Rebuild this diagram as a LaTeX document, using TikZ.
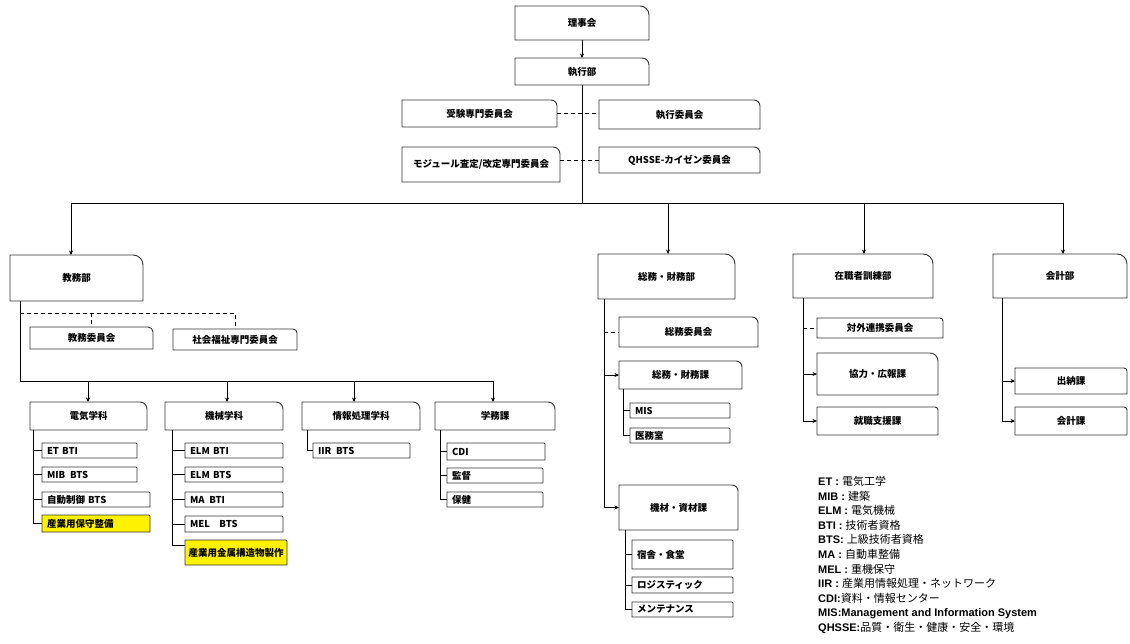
\documentclass[tikz,border=0pt]{standalone}
\usepackage{fontspec}
\setmainfont{Liberation Sans}
\newfontfamily\jp{Noto Sans CJK JP}
\usetikzlibrary{arrows.meta,calc}
\tikzset{
  boxline/.style={draw=black!80, line width=0.9pt},
  boxtext/.style={rectangle, inner sep=0pt, outer sep=0pt, text=black,
    font=\jp\bfseries\fontsize{9.5}{10}\selectfont},
  conn/.style={draw=black, line width=0.9pt},
  arr/.style={conn, -{Stealth[length=4.5pt,width=4pt]}},
  dconn/.style={conn, dash pattern=on 4pt off 3pt},
  legendtext/.style={anchor=north west, inner sep=0pt, align=left,
    font=\bfseries\fontsize{11}{14.6}\selectfont},
}
% #1 draw opts, #2 node opts, #3 name, #4 x1, #5 y1, #6 x2, #7 y2, #8 radius, #9 text
\newcommand\bxcore[9]{%
  \pgfmathsetmacro\bw{#6-#4}\pgfmathsetmacro\bh{#7-#5}%
  \draw[boxline,#1] (#4,#7) -- (#4,#5) -- ({#6-#8},#5)
     arc[start angle=90,end angle=0,radius=#8pt] -- (#6,#7) -- cycle;
  \node[boxtext,minimum width=\bw pt,minimum height=\bh pt,#2] (#3)
     at ({(#4+#6)/2},{(#5+#7)/2}) {#9};
}
\newcommand\bx[8][]{\bxcore{#1}{}{#2}{#3}{#4}{#5}{#6}{#7}{#8}}
\newcommand\bl[8][]{%
  \pgfmathsetmacro\tw{#5-#3-10}%
  \bxcore{#1}{text width=\tw pt,align=left}{#2}{#3}{#4}{#5}{#6}{#7}{#8}}

\begin{document}
\begin{tikzpicture}[x=1pt,y=-1pt]
\useasboundingbox[fill=white] (0,0) rectangle (1130,644);

% top
\bx{rijikai}{515}{6}{649}{40}{9}{理事会}
\bx{shikko}{515}{58}{649}{85}{7}{執行部}
\bx{juken}{402}{100}{557}{127}{6}{受験専門委員会}
\bx{shikkoi}{599}{100}{760}{129}{6}{執行委員会}
\bx{module}{402}{147}{560}{182}{7}{モジュール査定/改定専門委員会}
\bx{qhsse}{599}{147}{760}{173}{6}{QHSSE-カイゼン委員会}

% departments
\bx{kyomu}{10}{255}{143}{301}{10}{教務部}
\bx{somu}{598}{254}{735}{299}{10}{総務・財務部}
\bx{zaishoku}{793}{254}{933}{298}{10}{在職者訓練部}
\bx{kaikei}{993}{254}{1127}{298}{10}{会計部}

% kyomu
\bx{kyomui}{30}{327}{153}{349}{5}{教務委員会}
\bx{shakai}{173}{329}{297}{350}{4}{社会福祉専門委員会}
\bx{denki}{30}{402}{147}{430}{7}{電気学科}
\bx{kikai}{165}{402}{283}{430}{7}{機械学科}
\bx{joho}{302}{402}{420}{430}{7}{情報処理学科}
\bx{gakumu}{435}{402}{555}{430}{7}{学務課}

\bl{etbti}{42}{443}{137}{458}{1}{ET BTI}
\bl{mib}{42}{467}{137}{482}{1}{MIB\enspace BTS}
\bl{jido}{42}{492}{150}{507}{1}{自動制御 BTS}
\bl[fill=yellow]{sangyo1}{42}{515}{150}{532}{1}{産業用保守整備}
\bl{elmbti}{185}{443}{283}{458}{1}{ELM BTI}
\bl{elmbts}{185}{467}{283}{482}{1}{ELM BTS}
\bl{mabti}{185}{492}{283}{507}{1}{MA\enspace BTI}
\bl{melbts}{185}{516}{283}{532}{1}{MEL\quad BTS}
\bx[fill=yellow]{sangyo2}{185}{540}{287}{565}{1}{産業用金属構造物製作}
\bl{iir}{313}{443}{410}{458}{1}{IIR\enspace BTS}
\bl{cdi}{447}{443}{545}{460}{1}{CDI}
\bl{kantoku}{447}{468}{543}{483}{1}{監督}
\bl{hoken}{447}{492}{543}{507}{1}{保健}

% somu
\bx{somui}{619}{317}{758}{347}{6}{総務委員会}
\bx{somuka}{619}{361}{742}{389}{6}{総務・財務課}
\bl{mis}{630}{403}{730}{418}{1}{MIS}
\bl{imu}{630}{428}{730}{443}{1}{医務室}
\bx{kizai}{619}{485}{738}{530}{6}{機材・資材課}
\bl{shukusha}{632}{540}{733}{569}{1}{宿舎・食堂}
\bl{logi}{632}{577}{733}{593}{1}{ロジスティック}
\bl{maint}{632}{602}{733}{617}{1}{メンテナンス}

% zaishoku
\bx{taigai}{817}{318}{943}{338}{3}{対外連携委員会}
\bx{kyoryoku}{817}{353}{938}{395}{8}{協力・広報課}
\bx{shushoku}{817}{407}{938}{435}{3}{就職支援課}

% kaikei
\bx{suitou}{1015}{368}{1127}{394}{3}{出納課}
\bx{kaikeika}{1015}{407}{1127}{435}{3}{会計課}

% ---- connectors ----
\draw[arr] (rijikai) -- (shikko);
\coordinate (busC) at (582,203);
\coordinate (busL) at (71,203);
\coordinate (bus2) at (668,203);
\coordinate (bus3) at (864,203);
\coordinate (busR) at (1063,203);
\draw[conn] (shikko) -- (busC);
\draw[conn] (busL) -- (busR);
\draw[arr] (busL) -- (busL |- kyomu.north);
\draw[arr] (bus2) -- (bus2 |- somu.north);
\draw[arr] (bus3) -- (bus3 |- zaishoku.north);
\draw[arr] (busR) -- (busR |- kaikei.north);

\draw[dconn] (juken.east) -- (juken.east -| shikkoi.west);
\draw[dconn] (qhsse.west) -- (qhsse.west -| module.east);

% kyomu
\coordinate (k0) at ([xshift=10pt]kyomu.south west);
\coordinate (kbR) at (493,381);
\coordinate (kd) at (237,313);
\draw[conn] (k0) |- (kbR);
\draw[dconn] (k0 |- kd) -| (shakai.north);
\draw[dconn] (kyomui.north |- kd) -- (kyomui.north);
\coordinate (kb1) at (88,381);
\coordinate (kb2) at (227,381);
\coordinate (kb3) at (354,381);
\draw[arr] (kb1) -- (kb1 |- denki.north);
\draw[arr] (kb2) -- (kb2 |- kikai.north);
\draw[arr] (kb3) -- (kb3 |- joho.north);
\draw[arr] (kbR) -- (kbR |- gakumu.north);

\coordinate (dv) at (33,430);
\draw[conn] (dv) |- (sangyo1.west);
\foreach \n in {etbti,mib,jido} \draw[conn] (dv |- \n.west) -- (\n.west);
\coordinate (kv) at (172,430);
\coordinate (s2h) at ([yshift=-5pt]sangyo2.north west);
\draw[conn] (kv) |- (s2h);
\foreach \n in {elmbti,elmbts,mabti,melbts} \draw[conn] (kv |- \n.west) -- (\n.west);
\coordinate (jv) at (307,430);
\draw[conn] (jv) |- (iir.west);
\coordinate (gv) at (440,430);
\draw[conn] (gv) |- (hoken.west);
\foreach \n in {cdi,kantoku} \draw[conn] (gv |- \n.west) -- (\n.west);

% somu
\coordinate (sv) at (604,299);
\draw[arr] (sv) |- (kizai.west);
\draw[arr] (sv |- somuka.west) -- (somuka.west);
\draw[dconn] (sv |- somui.west) -- (somui.west);
\coordinate (s1v) at (623,389);
\draw[conn] (s1v) |- (imu.west);
\draw[conn] (s1v |- mis.west) -- (mis.west);
\coordinate (s2v) at (625,530);
\draw[conn] (s2v) |- (maint.west);
\foreach \n in {shukusha,logi} \draw[conn] (s2v |- \n.west) -- (\n.west);

% zaishoku
\coordinate (zv) at (803,298);
\draw[arr] (zv) |- (shushoku.west);
\draw[arr] (zv |- kyoryoku.west) -- (kyoryoku.west);
\draw[dconn] (zv |- taigai.west) -- (taigai.west);

% kaikei
\coordinate (kkv) at (1002,298);
\draw[arr] (kkv) |- (kaikeika.west);
\draw[arr] (kkv |- suitou.west) -- (suitou.west);

% legend
\node[legendtext] (legend) at (818,476) {%
ET : {\jp\mdseries 電気工学}\\
MIB : {\jp\mdseries 建築}\\
ELM : {\jp\mdseries 電気機械}\\
BTI : {\jp\mdseries 技術者資格}\\
BTS: {\jp\mdseries 上級技術者資格}\\
MA : {\jp\mdseries 自動車整備}\\
MEL : {\jp\mdseries 重機保守}\\
IIR : {\jp\mdseries 産業用情報処理・ネットワーク}\\
CDI:{\jp\mdseries 資料・情報センター}\\
MIS:Management and Information System\\
QHSSE:{\jp\mdseries 品質・衛生・健康・安全・環境}};
\end{tikzpicture}
\end{document}
